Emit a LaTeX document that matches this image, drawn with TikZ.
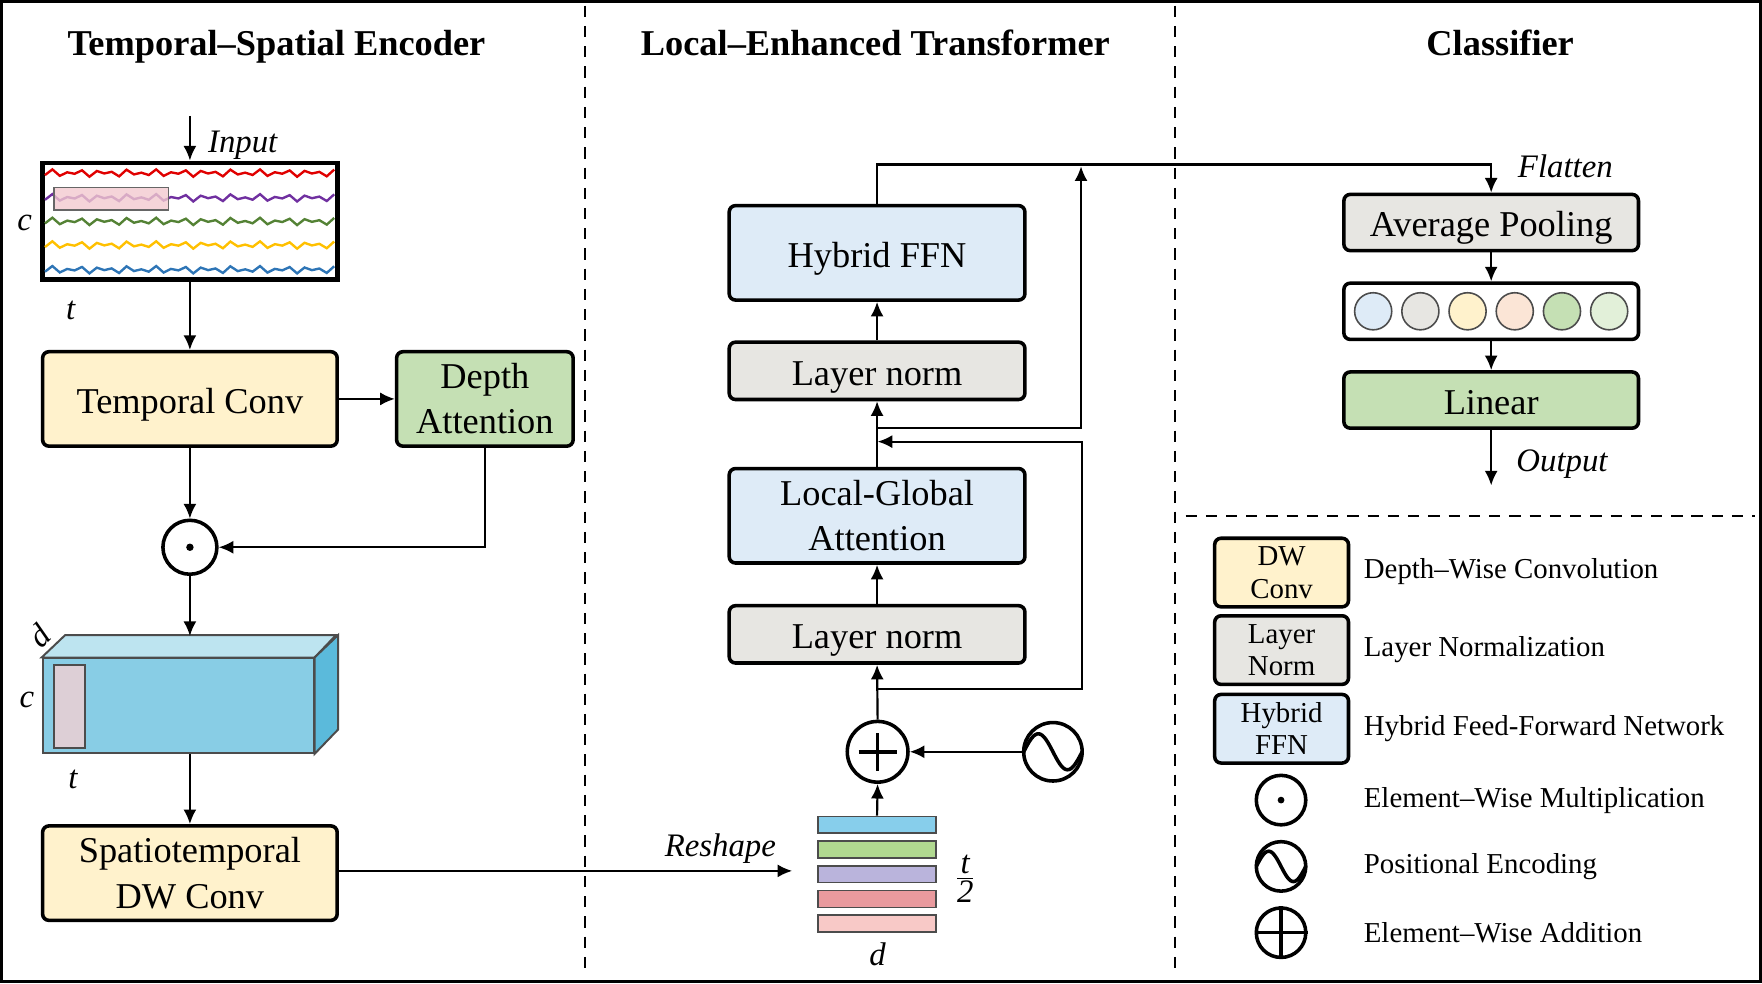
\documentclass[tikz,border=0pt]{standalone}
\usepackage{fontspec}
\setmainfont{Liberation Serif}
\usepackage{tikz}
\usetikzlibrary{positioning}
\usetikzlibrary{arrows.meta}
\usetikzlibrary{shapes.geometric}
\usepackage{xcolor}

\definecolor{convyellow}{HTML}{FFF2CC}
\definecolor{attgreen}{HTML}{C5E0B4}
\definecolor{normgray}{HTML}{E7E6E2}
\definecolor{ffnblue}{HTML}{DEEBF7}
\definecolor{cubefront}{HTML}{88CDE5}
\definecolor{cubetop}{HTML}{BDE4F0}
\definecolor{cuberight}{HTML}{5BBADB}
\definecolor{markpink}{HTML}{DDCFD6}
\definecolor{hlpink}{HTML}{F2C9CF}
\definecolor{wred}{HTML}{E00000}
\definecolor{wpurple}{HTML}{7030A0}
\definecolor{wgreen}{HTML}{548235}
\definecolor{wyellow}{HTML}{FFC000}
\definecolor{wblue}{HTML}{2E75B6}
\definecolor{barblue}{HTML}{87CEEB}
\definecolor{bargreen}{HTML}{B1D990}
\definecolor{barpurple}{HTML}{BAB4DC}
\definecolor{barred}{HTML}{E99A9E}
\definecolor{barpink}{HTML}{F8C9C7}
\definecolor{dotpeach}{HTML}{FBE5D6}
\definecolor{dotlgreen}{HTML}{E2F0D9}

\begin{document}
\begin{tikzpicture}[>={Latex[length=3.7pt,width=3.3pt]},line join=miter,x=0.01cm,y=-0.01cm,
    box/.style={rectangle,rounded corners=1.6pt,draw,line width=0.9pt,align=center,inner sep=0pt,font=\fontsize{9.2}{11.4}\selectfont},
    onebox/.style={box,text height=9.2pt,text depth=2pt},
    legbox/.style={box,minimum width=1.19cm,minimum height=0.61cm,font=\fontsize{7.3}{8.2}\selectfont},
    optor/.style={circle,draw,line width=0.9pt,inner sep=0pt},
    bar/.style={rectangle,draw=black!70,line width=0.4pt,minimum width=1.05cm,minimum height=0.15cm,inner sep=0pt},
    dot/.style={circle,draw=black!70,line width=0.4pt,minimum size=0.33cm,inner sep=0pt},
    title/.style={anchor=base,font=\fontsize{9.2}{11}\selectfont\bfseries},
    lab/.style={font=\fontsize{8.3}{10}\selectfont\itshape},
    legtxt/.style={anchor=west,inner sep=0pt,font=\fontsize{7.3}{8.2}\selectfont},
    conn/.style={color=black,line width=0.55pt},
    sep/.style={line width=0.5pt,dash pattern=on 1mm off 0.8mm}]
            %
            \useasboundingbox (0,0) rectangle (1568,875);
            \draw[line width=0.9pt] (1.5,1.5) rectangle (1566.5,873.5);
            \draw[sep] (521,5) -- (521,862);
            \draw[sep] (1046,5) -- (1046,862);
            \draw[sep] (1055,459) -- (1562,459);
            %
            \node[title] (enctitle) at (246,49) {Temporal--Spatial Encoder};
            \node[title] (trftitle) at (779,49) {Local--Enhanced Transformer};
            \node[title] (clstitle) at (1335,49) {Classifier};
            %
            % Temporal-Spatial Encoder
            \node[rectangle,draw,line width=1.2pt,minimum width=2.62cm,minimum height=1.04cm] (inbox) at (169,197) {};
            \foreach \col/\yy in {wred/154,wpurple/176,wgreen/197,wyellow/218,wblue/240}
                \draw[\col,line width=0.6pt] plot[domain=0:39,samples=40] ({40+6.6*\x},{\yy+3.3*cos(180*\x)*(0.55+0.45*sin(\x*77))});
            \node[rectangle,draw=black!60,line width=0.4pt,fill=hlpink,fill opacity=0.8,minimum width=1.02cm,minimum height=0.2cm,inner sep=0pt] (hl) at (99,177) {};
            \coordinate (inptop) at (169,103);
            \node[lab] (inplab) at (216,129) {Input};
            \node[lab] (inpc) at (22,198) {c};
            \node[lab] (inpt) at (63,276) {t};
            %
            \node[onebox,fill=convyellow,minimum width=2.62cm,minimum height=0.84cm] (tconv) at (169,355) {Temporal Conv};
            \node[box,fill=attgreen,minimum width=1.57cm,minimum height=0.84cm] (datt) at (431.5,355) {Depth\\Attention};
            \node[optor,minimum size=0.48cm] (odot) at (169,487) {};
            \fill (odot.center) circle[radius=0.033cm];
            %
            \node[rectangle,draw=black!70,line width=0.5pt,fill=cubefront,minimum width=2.41cm,minimum height=0.84cm,inner sep=0pt] (cube) at (158.5,628) {};
            \filldraw[fill=cubetop,draw=black!70,line width=0.5pt] (cube.north west) -- ++(21,-20) -- ++(241,0) -- (cube.north east) -- cycle;
            \filldraw[fill=cuberight,draw=black!70,line width=0.5pt] (cube.north east) -- ++(21,-20) -- ++(0,84) -- (cube.south east) -- cycle;
            \node[rectangle,draw=black!70,line width=0.5pt,fill=markpink,minimum width=0.28cm,minimum height=0.74cm,inner sep=0pt] (cubemark) at (62,629) {};
            \coordinate (cubetop) at (169,566);
            \node[lab,rotate=45] (cubed) at (35,566) {d};
            \node[lab] (cubec) at (24,623) {c};
            \node[lab] (cubet) at (65,694) {t};
            %
            \node[box,fill=convyellow,minimum width=2.62cm,minimum height=0.84cm] (stconv) at (169,777) {Spatiotemporal\\DW Conv};
            %
            \draw[conn,->] (inptop) to (inbox.north);
            \draw[conn,->] (inbox.south) to (tconv.north);
            \draw[conn,->] (tconv.east) to (datt.west);
            \draw[conn,->] (tconv.south) to (odot.north);
            \draw[conn,->] (datt.south) |- (odot.east);
            \draw[conn,->] (odot.south) to (cubetop);
            \draw[conn,->] (cube.south -| odot.south) to (stconv.north);
            %
            % Local-Enhanced Transformer
            \foreach \col [count=\i] in {barblue,bargreen,barpurple,barred,barpink}
                \node[bar,fill=\col] (bar\i) at (780.5,{712+22*\i}) {};
            \node[lab] (bard) at (781,849) {d};
            \node[lab] (bart) at (859,782) {$\frac{\textit{t}}{\textrm{2}}$};
            \coordinate (reshapeend) at (705,775);
            \node[lab] (reshapelab) at (641,755) {Reshape};
            %
            \node[optor,minimum size=0.54cm] (plus) at (781,669) {};
            \draw[line width=0.9pt] ([xshift=-0.17cm]plus.center) -- ([xshift=0.17cm]plus.center);
            \draw[line width=0.9pt] ([yshift=-0.17cm]plus.center) -- ([yshift=0.17cm]plus.center);
            \node[optor,minimum size=0.52cm] (pe) at (937,669) {};
            \draw[line width=0.9pt,shift={(pe.center)}] plot[domain=-26:26,samples=40,smooth] (\x,{16*sin(\x/26*180)});
            %
            \node[onebox,fill=normgray,minimum width=2.63cm,minimum height=0.51cm] (ln1) at (780.5,564.5) {Layer norm};
            \node[box,fill=ffnblue,minimum width=2.63cm,minimum height=0.84cm] (lga) at (780.5,459) {Local-Global\\Attention};
            \node[onebox,fill=normgray,minimum width=2.63cm,minimum height=0.51cm] (ln2) at (780.5,330) {Layer norm};
            \node[onebox,fill=ffnblue,minimum width=2.63cm,minimum height=0.84cm] (hffn) at (780.5,225) {Hybrid FFN};
            \coordinate (res1a) at (781,613);
            \coordinate (res1b) at (781,393);
            \coordinate (res2a) at (781,381);
            \coordinate (res2b) at (962,148);
            %
            \draw[conn,->] (stconv.east |- reshapeend) to (reshapeend);
            \draw[conn,->] (bar1.north) to (plus.south);
            \draw[conn,->] (pe.west) to (plus.east);
            \draw[conn,->] (plus.north) to (ln1.south);
            \draw[conn,->] (ln1.north) to (lga.south);
            \draw[conn,->] (lga.north) to (ln2.south);
            \draw[conn,->] (ln2.north) to (hffn.south);
            \draw[conn,->] (res1a) -- ++(182,0) |- (res1b);
            \draw[conn,->] (res2a) -| (res2b);
            %
            % Classifier
            \node[onebox,fill=normgray,minimum width=2.62cm,minimum height=0.50cm] (avgpool) at (1327,198) {Average Pooling};
            \node[box,fill=white,minimum width=2.62cm,minimum height=0.50cm] (vec) at (1327,277) {};
            \foreach \col [count=\i] in {ffnblue,normgray,convyellow,dotpeach,attgreen,dotlgreen}
                \node[dot,fill=\col] (v\i) at ({1180+42*\i},277) {};
            \node[onebox,fill=attgreen,minimum width=2.62cm,minimum height=0.50cm] (linear) at (1327,356) {Linear};
            \coordinate (outend) at (1327,432);
            \node[lab] (flatlab) at (1393,148) {Flatten};
            \node[lab] (outlab) at (1390,413) {Output};
            \draw[conn,->] (hffn.north) -- ++(0,-35) -| (avgpool.north);
            \draw[conn,->] (avgpool.south) to (vec.north);
            \draw[conn,->] (vec.south) to (linear.north);
            \draw[conn,->] (linear.south) to (outend);
            %
            % legend
            \node[legbox,fill=convyellow] (legdw) at (1140.5,509.5) {DW\\Conv};
            \node[legbox,fill=normgray] (legln) at (1140.5,578.5) {Layer\\Norm};
            \node[legbox,fill=ffnblue] (legffn) at (1140.5,648.5) {Hybrid\\FFN};
            \node[optor,minimum size=0.44cm] (legodot) at (1140,712) {};
            \fill (legodot.center) circle[radius=0.03cm];
            \node[optor,minimum size=0.44cm] (legpe) at (1140,771) {};
            \draw[line width=0.9pt,shift={(legpe.center)}] plot[domain=-22:22,samples=40,smooth] (\x,{13.5*sin(\x/22*180)});
            \node[optor,minimum size=0.44cm] (legplus) at (1140,830) {};
            \draw[line width=0.9pt] (legplus.west) -- (legplus.east);
            \draw[line width=0.9pt] (legplus.north) -- (legplus.south);
            \node[legtxt] (legdwtxt) at (1213,509) {Depth--Wise Convolution};
            \node[legtxt] (leglntxt) at (1213,578) {Layer Normalization};
            \node[legtxt] (legffntxt) at (1213,648) {Hybrid Feed-Forward Network};
            \node[legtxt] (legodottxt) at (1213,712) {Element--Wise Multiplication};
            \node[legtxt] (legpetxt) at (1213,771) {Positional Encoding};
            \node[legtxt] (legplustxt) at (1213,830) {Element--Wise Addition};
            %
\end{tikzpicture}
\end{document}
